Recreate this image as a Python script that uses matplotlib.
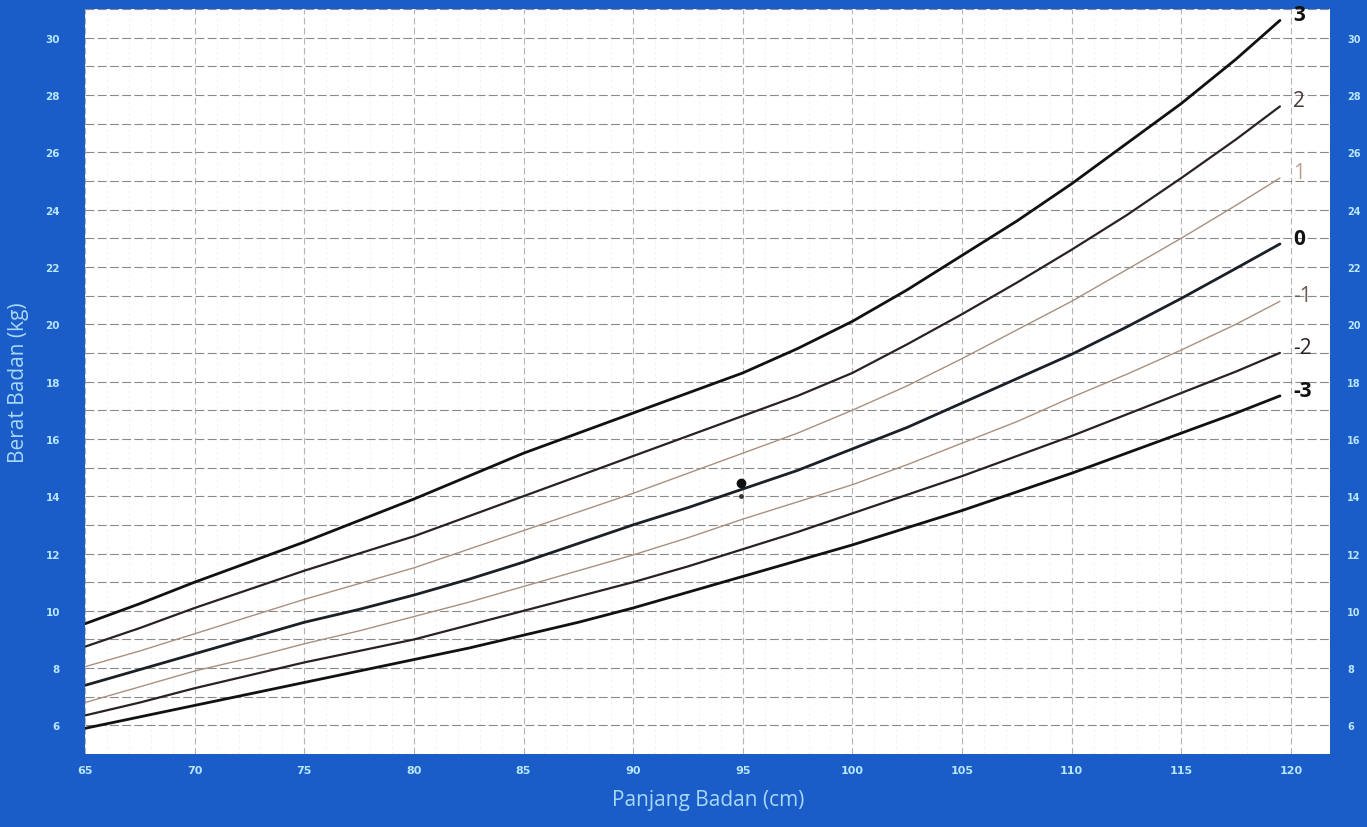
import matplotlib
matplotlib.use("Agg")
import matplotlib.pyplot as plt
import numpy as np

length_cm = [65, 67.5, 70, 72.5, 75, 77.5, 80, 82.5, 85, 87.5, 90, 92.5, 95,
             97.5, 100, 102.5, 105, 107.5, 110, 112.5, 115, 117.5, 119.5]
sd_p3 = [9.55, 10.25, 11.0, 11.7, 12.4, 13.15, 13.9, 14.7, 15.5, 16.2, 16.9, 17.6, 18.3,
         19.15, 20.1, 21.2, 22.4, 23.6, 24.9, 26.3, 27.7, 29.25, 30.6]
sd_p2 = [8.75, 9.4, 10.1, 10.75, 11.4, 12.0, 12.6, 13.3, 14.0, 14.7, 15.4, 16.1, 16.8,
         17.5, 18.3, 19.3, 20.35, 21.45, 22.6, 23.8, 25.1, 26.45, 27.6]
sd_p1 = [8.05, 8.6, 9.2, 9.8, 10.4, 10.95, 11.5, 12.15, 12.8, 13.45, 14.1, 14.8, 15.5,
         16.2, 17.0, 17.85, 18.8, 19.8, 20.8, 21.9, 23.0, 24.15, 25.1]
sd_0 = [7.4, 7.95, 8.5, 9.05, 9.6, 10.05, 10.55, 11.1, 11.7, 12.35, 13.0, 13.6, 14.25,
        14.9, 15.65, 16.4, 17.25, 18.1, 18.95, 19.9, 20.9, 21.95, 22.8]
sd_m1 = [6.8, 7.35, 7.9, 8.35, 8.85, 9.3, 9.8, 10.3, 10.85, 11.4, 11.95, 12.55, 13.2,
         13.8, 14.4, 15.1, 15.85, 16.6, 17.45, 18.25, 19.1, 20.0, 20.8]
sd_m2 = [6.35, 6.8, 7.3, 7.75, 8.2, 8.6, 9.0, 9.5, 10.0, 10.5, 11.0, 11.55, 12.15,
         12.75, 13.4, 14.05, 14.7, 15.4, 16.1, 16.85, 17.6, 18.35, 19.0]
sd_m3 = [5.9, 6.3, 6.7, 7.1, 7.5, 7.9, 8.3, 8.7, 9.15, 9.6, 10.1, 10.65, 11.2,
         11.75, 12.3, 12.9, 13.5, 14.15, 14.8, 15.5, 16.2, 16.9, 17.5]
curve_labels = ["3", "2", "1", "0", "-1", "-2", "-3"]

child_length = [94.9, 94.9]
child_weight = [14.45, 14.0]

x_ticks = [65, 70, 75, 80, 85, 90, 95, 100, 105, 110, 115, 120]
y_ticks = [6, 8, 10, 12, 14, 16, 18, 20, 22, 24, 26, 28, 30]

blue = "#1a5cc8"
tick_col = "#b8e6ff"

fig = plt.figure(figsize=(13.67, 8.28), dpi=100, facecolor=blue)
ax = fig.add_axes([0.0622, 0.088, 0.911, 0.9])
ax.set_facecolor("white")
ax.set_xlim(65, 121.8)
ax.set_ylim(5.0, 31.0)

# grid
ax.set_xticks(x_ticks)
ax.set_yticks(y_ticks)
ax.set_xticks(np.arange(65, 121, 1), minor=True)
ax.set_yticks(np.arange(5, 32, 1), minor=True)
ax.grid(which="major", axis="x", color="#b4b4b4", linestyle=(0, (6, 3)), linewidth=0.8)
ax.grid(which="minor", axis="x", color="#eeeeee", linestyle=(0, (4, 4)), linewidth=0.5)
ax.grid(which="both", axis="y", color="#8a8a8a", linestyle=(0, (8, 3)), linewidth=0.8)
ax.set_axisbelow(True)

series = [sd_p3, sd_p2, sd_p1, sd_0, sd_m1, sd_m2, sd_m3]
colors = ["#111111", "#2a2222", "#a89080", "#1a1f28", "#a89080", "#2a2222", "#111111"]
widths = [2.0, 1.6, 1.0, 2.0, 1.0, 1.6, 2.0]
label_cols = ["#111111", "#4a3a34", "#b8a090", "#111111", "#6a5a50", "#2a2222", "#111111"]
label_bold = ["bold", "normal", "normal", "bold", "normal", "normal", "bold"]
for ys, c, w, lab, lc, lb in zip(series, colors, widths, curve_labels, label_cols, label_bold):
    ax.plot(length_cm, ys, color=c, linewidth=w, solid_capstyle="round",
            solid_joinstyle="round")
    ax.text(length_cm[-1] + 0.6, ys[-1] + 0.2, lab, color=lc, fontsize=15,
            fontweight=lb, ha="left", va="center", family="Open Sans")

ax.plot(child_length[0], child_weight[0], "o", color="#111111", markersize=6)
ax.plot(child_length[1], child_weight[1], "o", color="#333333", markersize=2.5)

for s in ax.spines.values():
    s.set_visible(False)
ax.tick_params(which="both", length=0)
ax.tick_params(axis="x", colors=tick_col, labelsize=8, pad=8)
ax.tick_params(axis="y", colors=tick_col, labelsize=7.5, pad=18)
for t in ax.get_xticklabels() + ax.get_yticklabels():
    t.set_fontweight("bold")

ax2 = ax.twinx()
ax2.set_ylim(ax.get_ylim())
ax2.set_yticks(y_ticks)
ax2.tick_params(axis="y", colors=tick_col, labelsize=7, length=0, pad=12)
for t in ax2.get_yticklabels():
    t.set_fontweight("bold")
for s in ax2.spines.values():
    s.set_visible(False)

ax.set_xlabel("Panjang Badan (cm)", color="#a8d8f8", fontsize=15, family="Open Sans", labelpad=10)
ax.set_ylabel("Berat Badan (kg)", color="#a8d8f8", fontsize=15, family="Open Sans", labelpad=12)

fig.savefig("out.png", dpi=100, facecolor=blue)
